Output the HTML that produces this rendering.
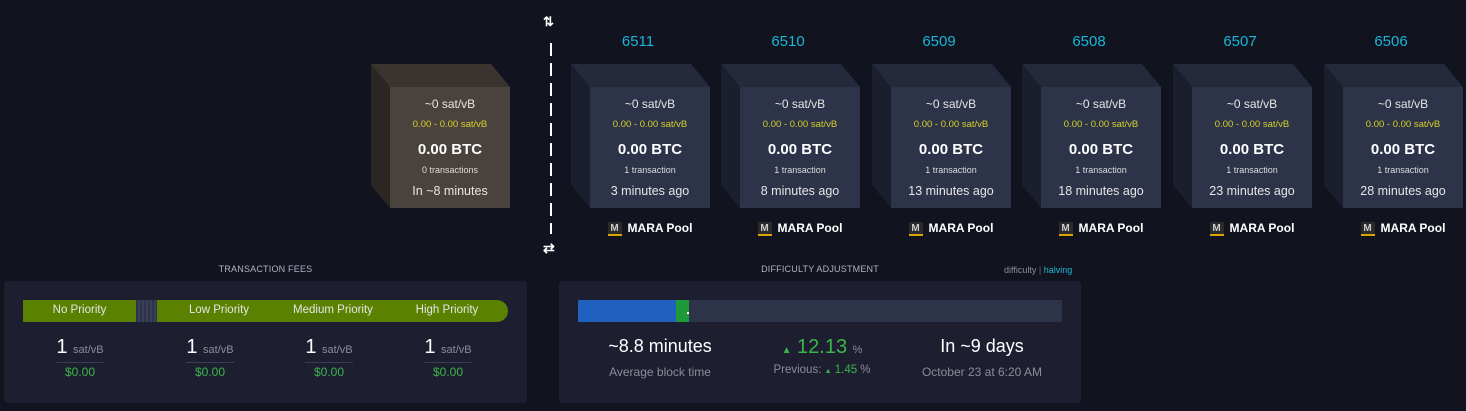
<!DOCTYPE html>
<html><head><meta charset="utf-8"><style>
*{margin:0;padding:0;box-sizing:border-box}
body{width:1466px;height:411px;background:#11131f;font-family:"Liberation Sans",sans-serif;position:relative;overflow:hidden;color:#fff}
.a{position:absolute}
.c{position:absolute;text-align:center;white-space:nowrap}
.num{color:#1bb6d8;font-size:15px;top:33px;width:120px}
.f1{font-size:12px;color:#e6e6e6}
.f2{font-size:9.5px;color:#d5d22a}
.f3{font-size:15px;font-weight:bold;color:#fff}
.f4{font-size:9px;color:#ddd}
.f5{font-size:12.5px;color:#e6e6e6}
.pool{font-size:12px;font-weight:bold;color:#fff;top:221px}
.mi{display:inline-block;width:14px;height:14px;background:#2a2a2a;color:#ccc;font-size:10px;line-height:14px;text-align:center;vertical-align:middle;margin-right:6px;border-bottom:2px solid #d9a400;}
.panel{background:#1d1f31;border-radius:4px}
.lbl{font-size:9px;color:#b0b3c0;letter-spacing:.2px}
</style></head><body>
<svg class="a" style="left:0;top:0" width="1466" height="260">
<polygon points="371,64 491,64 510,87 390,87" fill="#3a332f"/>
<polygon points="371,64 390,87 390,208 371,185" fill="#2b2623"/>
<rect x="390" y="87" width="120" height="121" fill="#4a433d"/>
<g id="b">
</g>
<line x1="551" y1="43" x2="551" y2="234" stroke="#fff" stroke-width="2" stroke-dasharray="13,7"/>
</svg>
<div class="c" style="left:543px;top:14px;font-size:13px;font-weight:bold">⇅</div>
<div class="c" style="left:543px;top:240px;font-size:14px;font-weight:bold">⇄</div>

<div class="c f1" style="left:390px;top:97px;width:120px">~0 sat/vB</div>
<div class="c f2" style="left:390px;top:119px;width:120px">0.00 - 0.00 sat/vB</div>
<div class="c f3" style="left:390px;top:141px;width:120px">0.00 BTC</div>
<div class="c f4" style="left:390px;top:165px;width:120px">0 transactions</div>
<div class="c f5" style="left:390px;top:184px;width:120px">In ~8 minutes</div>

<div id="blocks"></div>

<div class="c lbl" style="left:4px;top:264px;width:523px">TRANSACTION FEES</div>
<div class="a panel" style="left:4px;top:281px;width:523px;height:122px"></div>
<div class="a" style="left:23px;top:300px;width:113px;height:22px;background:#5a8100"></div>
<div class="a" style="left:136px;top:300px;width:21px;height:22px;background:repeating-linear-gradient(90deg,#2d3348 0 2px,#3a4058 2px 4px)"></div>
<div class="a" style="left:157px;top:300px;width:351px;height:22px;background:#5a8100;border-radius:0 11px 11px 0"></div>
<div class="c" style="left:23px;top:304px;width:113px;font-size:11.5px;color:#e6e6e6">No Priority</div>
<div class="c" style="left:157px;top:304px;width:124px;font-size:11.5px;color:#e6e6e6">Low Priority</div>
<div class="c" style="left:270px;top:304px;width:126px;font-size:11.5px;color:#e6e6e6">Medium Priority</div>
<div class="c" style="left:386px;top:304px;width:122px;font-size:11.5px;color:#e6e6e6">High Priority</div>
<div id="fees"></div>

<div class="c lbl" style="left:559px;top:264px;width:522px">DIFFICULTY ADJUSTMENT</div>
<div class="a" style="left:1004px;top:265px;font-size:9px;color:#8a8d99">difficulty <span style="color:#666">|</span> <span style="color:#1bb6d8">halving</span></div>
<div class="a panel" style="left:559px;top:281px;width:522px;height:122px"></div>
<div class="a" style="left:578px;top:300px;width:484px;height:22px;background:#2d3348"></div>
<div class="a" style="left:578px;top:300px;width:98px;height:22px;background:#2061c0"></div>
<div class="a" style="left:676px;top:300px;width:13px;height:22px;background:#1f9a3a"></div>
<div class="a" style="left:687px;top:312px;width:2px;height:2px;background:#fff"></div>
<div class="c" style="left:578px;top:336px;width:164px;font-size:18px;color:#fff">~8.8 minutes</div>
<div class="c" style="left:578px;top:365px;width:164px;font-size:12px;color:#8a8d99">Average block time</div>
<div class="c" style="left:740px;top:336px;width:164px;font-size:20px;color:#3bb54a"><span style="font-size:10px">▲</span> 12.13 <span style="font-size:11px;color:#8a8d99">%</span></div>
<div class="c" style="left:740px;top:364px;width:164px;font-size:11.5px;color:#8a8d99">Previous: <span style="color:#3bb54a"><span style="font-size:7px">▲</span> 1.45</span> %</div>
<div class="c" style="left:900px;top:336px;width:164px;font-size:18px;color:#fff">In ~9 days</div>
<div class="c" style="left:900px;top:365px;width:164px;font-size:12px;color:#8a8d99">October 23 at 6:20 AM</div>

<script>
const xs=[571,721,872,1022,1173,1324],nums=[6511,6510,6509,6508,6507,6506],ts=[3,8,13,18,23,28];
let svg='',h='';
xs.forEach((x,i)=>{
svg+=`<polygon points="${x},64 ${x+120},64 ${x+139},87 ${x+19},87" fill="#242a3b"/><polygon points="${x},64 ${x+19},87 ${x+19},208 ${x},185" fill="#1b1f2d"/><rect x="${x+19}" y="87" width="120" height="121" fill="#2d3348"/>`;
const L=x+19;
h+=`<div class="c num" style="left:${x+7}px">${nums[i]}</div>
<div class="c f1" style="left:${L}px;top:97px;width:120px">~0 sat/vB</div>
<div class="c f2" style="left:${L}px;top:119px;width:120px">0.00 - 0.00 sat/vB</div>
<div class="c f3" style="left:${L}px;top:141px;width:120px">0.00 BTC</div>
<div class="c f4" style="left:${L}px;top:165px;width:120px">1 transaction</div>
<div class="c f5" style="left:${L}px;top:184px;width:120px">${ts[i]} minutes ago</div>
<div class="c pool" style="left:${L}px;width:120px"><span class="mi">M</span>MARA Pool</div>`;});
document.getElementById('b').outerHTML=svg;
document.getElementById('blocks').innerHTML=h;
let f='';[80,210,329,448].forEach((cx)=>{
f+=`<div class="c" style="left:${cx-50}px;top:336px;width:100px;font-size:20px;color:#fff">1 <span style="font-size:11px;color:#8a8d99">sat/vB</span></div>
<div class="a" style="left:${cx-24}px;top:362px;width:48px;height:1px;background:#3a3d50"></div>
<div class="c" style="left:${cx-50}px;top:365px;width:100px;font-size:12px;color:#3bb54a">$0.00</div>`;});
document.getElementById('fees').innerHTML=f;
</script>
</body></html>
